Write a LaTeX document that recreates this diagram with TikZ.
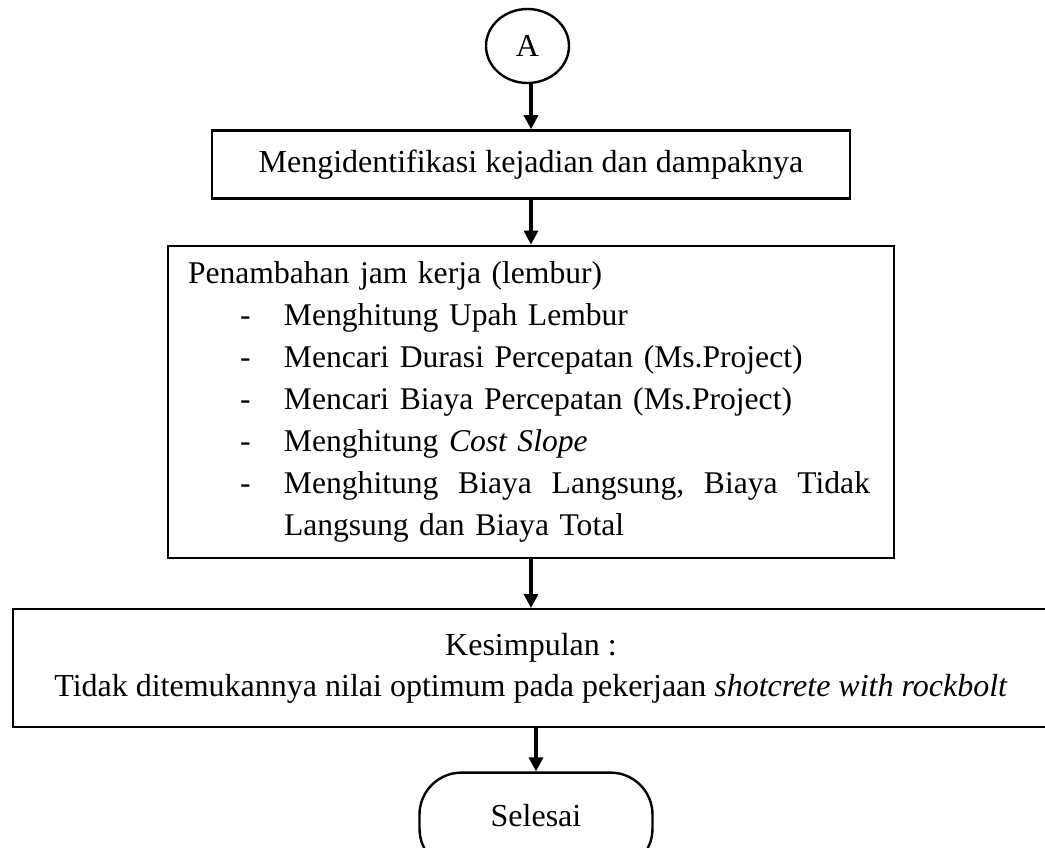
\documentclass[tikz,border=0pt]{standalone}
\usepackage{fontspec}
\setmainfont{Liberation Serif}
\usetikzlibrary{shapes, positioning, arrows.meta, calc}
\newcommand{\butir}[1]{\hspace*{26pt}\makebox[22pt][l]{-}#1}

\begin{document}
\begin{tikzpicture}[
  kotak/.style={draw, line width=1.2pt, rectangle, inner sep=0pt},
  panah/.style={-{Triangle[width=7pt,length=7pt]}, line width=1.6pt}
  ]
      \useasboundingbox (0,0) rectangle (522.5pt,-423.5pt);
      \node[
      ellipse,
      draw,
      line width=1.2pt,
      minimum width=41.5pt,
      minimum height=37pt,
      inner sep=0pt,
      font=\fontsize{16}{18}\selectfont
      ] (A) at (263.75pt,-23pt) {A};
      \node[
      kotak,
      minimum width=319pt,
      minimum height=34pt,
      font=\fontsize{16}{18}\selectfont,
      below = 22.5pt of A,
      xshift=1.75pt
      ] (identifikasi) {Mengidentifikasi kejadian dan dampaknya};
      \node[
      kotak,
      align=left,
      text width=343pt,
      inner xsep=10pt,
      minimum height=156pt,
      font=\fontsize{15.8}{21}\selectfont,
      below = 22.5pt of identifikasi
      ] (lembur) {Penambahan jam kerja (lembur)\\
        \butir{Menghitung Upah Lembur}\\
        \butir{Mencari Durasi Percepatan (Ms.Project)}\\
        \butir{Mencari Biaya Percepatan (Ms.Project)}\\
        \butir{Menghitung \textit{Cost Slope}}\\
        \butir{\hbox to 293pt{Menghitung\hfill Biaya\hfill Langsung,\hfill Biaya\hfill Tidak}}\\
        \hspace*{48pt}Langsung dan Biaya Total};
      \node[
      kotak,
      align=center,
      minimum width=518pt,
      minimum height=59pt,
      font=\fontsize{16}{20.5}\selectfont,
      below = 24.5pt of lembur
      ] (kesimpulan) {Kesimpulan :\\
        Tidak ditemukannya nilai optimum pada pekerjaan \textit{shotcrete with rockbolt}};
      \node[
      kotak,
      rounded corners=21pt,
      minimum width=116.5pt,
      minimum height=49pt,
      text depth=6pt,
      font=\fontsize{16}{18}\selectfont,
      below = 21.5pt of kesimpulan,
      xshift=2.5pt
      ] (selesai) {Selesai};
      \draw[panah] (identifikasi.north |- A.south) -- (identifikasi.north);
      \draw[panah] (identifikasi) -- (lembur);
      \draw[panah] (lembur) -- (kesimpulan);
      \draw[panah] (selesai.north |- kesimpulan.south) -- (selesai.north);
    \end{tikzpicture}
\end{document}
